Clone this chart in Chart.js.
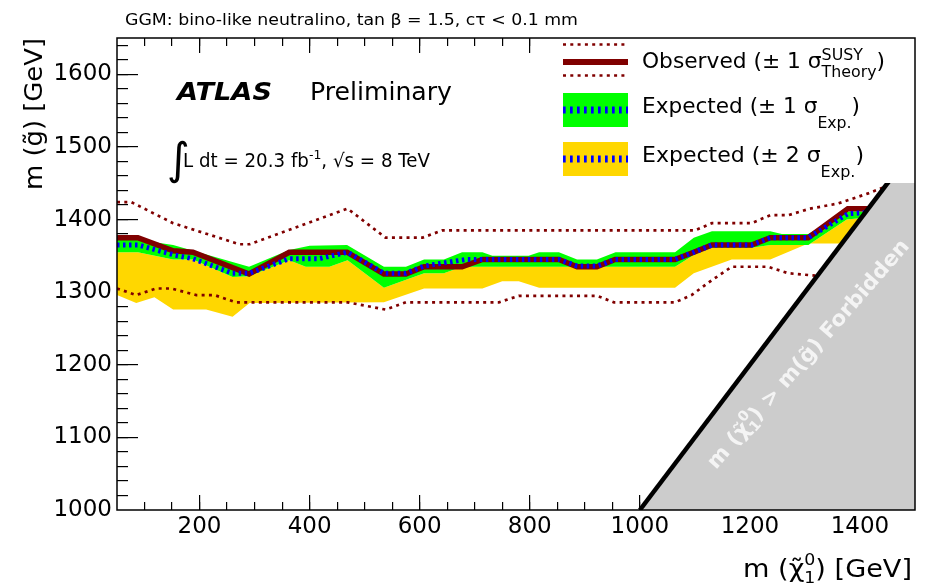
<!DOCTYPE html>
<html lang="en">
<head>
<meta charset="UTF-8">
<title>GGM bino-like neutralino limits</title>
<style>
  html, body { margin: 0; padding: 0; background: #fff; }
  canvas { display: block; }
</style>
<script src="https://cdn.jsdelivr.net/npm/chart.js@4.4.1/dist/chart.umd.min.js"></script>
</head>
<body>
<canvas id="limitChart" width="932" height="584"></canvas>
<script>
const FONT = '"DejaVu Sans", sans-serif';
const DARK_RED = '#800000';

// axis ranges and labels
const X_MIN = 50, X_MAX = 1500;
const Y_MIN = 1000, Y_MAX = 1650;
const xTickValues = [200, 400, 600, 800, 1000, 1200, 1400];
const yTickValues = [1000, 1100, 1200, 1300, 1400, 1500, 1600];

// observed limit, m(neutralino) vs m(gluino)
const obsMass  = [50, 88, 152, 188, 290, 363, 468, 535, 575, 608, 677, 714, 853, 886, 922, 955, 1064, 1098, 1131, 1203, 1237, 1306, 1378, 1420];
const obsLimit = [1375, 1375, 1357, 1355, 1325, 1355, 1355, 1325, 1325, 1335, 1335, 1345, 1345, 1335, 1335, 1345, 1345, 1355, 1365, 1365, 1375, 1375, 1415, 1415];

// observed +/- 1 sigma theory
const thUpMass    = [50, 76, 152, 272, 291, 469, 538, 605, 641, 1100, 1131, 1203, 1237, 1270, 1309, 1360, 1415, 1445];
const thUpLimit   = [1424, 1424, 1395, 1366, 1366, 1415, 1375, 1375, 1385, 1385, 1395, 1395, 1406, 1406, 1415, 1422, 1436, 1445];
const thDownMass  = [50, 85, 121, 149, 194, 227, 266, 469, 538, 575, 744, 780, 922, 953, 1064, 1094, 1130, 1167, 1233, 1270, 1330];
const thDownLimit = [1305, 1296, 1305, 1305, 1296, 1296, 1286, 1286, 1276, 1286, 1286, 1295, 1295, 1286, 1286, 1296, 1316, 1335, 1335, 1326, 1322];

// expected limit
const expMass  = [50, 88, 155, 188, 260, 290, 363, 417, 469, 535, 575, 608, 684, 853, 886, 922, 955, 1064, 1098, 1131, 1203, 1237, 1306, 1378, 1420];
const expLimit = [1365, 1365, 1351, 1346, 1326, 1326, 1346, 1346, 1355, 1326, 1326, 1336, 1345, 1345, 1336, 1336, 1345, 1345, 1355, 1365, 1365, 1375, 1375, 1408, 1410];

// expected +/- 1 sigma band
const greenUpMass   = [50, 88, 152, 290, 363, 400, 468, 535, 575, 608, 644, 677, 714, 732, 798, 817, 853, 886, 922, 956, 1064, 1098, 1131, 1237, 1258, 1306, 1376, 1440];
const greenUpLimit  = [1372, 1372, 1365, 1335, 1358, 1364, 1365, 1335, 1335, 1345, 1345, 1355, 1355, 1350, 1350, 1355, 1355, 1345, 1345, 1355, 1355, 1375, 1384, 1384, 1380, 1380, 1411, 1411];
const greenLowMass  = [50, 88, 152, 188, 260, 290, 363, 393, 436, 469, 535, 608, 644, 677, 1064, 1098, 1131, 1203, 1237, 1306, 1376, 1440];
const greenLowLimit = [1355, 1355, 1345, 1345, 1321, 1322, 1344, 1335, 1335, 1344, 1306, 1326, 1326, 1335, 1335, 1351, 1361, 1361, 1365, 1365, 1400, 1405];

// expected -2 sigma edge
const yellowLowMass  = [50, 85, 118, 152, 212, 260, 291, 535, 608, 714, 750, 780, 817, 1064, 1098, 1167, 1237, 1306, 1440];
const yellowLowLimit = [1296, 1285, 1293, 1276, 1276, 1266, 1285, 1286, 1305, 1305, 1315, 1315, 1306, 1306, 1326, 1345, 1345, 1367, 1367];

// kinematic edge m(neutralino) = m(gluino)
const edgeMass  = [1000, 1500];
const edgeLimit = [1000, 1500];

function pts(xs, ys) {
  return xs.map((x, i) => ({ x: x, y: ys[i] }));
}

function steps(from, to, step) {
  const out = [];
  for (let v = from; v <= to; v += step) out.push(v);
  return out;
}

function series(data, extra) {
  return Object.assign({
    data: data,
    pointRadius: 0,
    pointHoverRadius: 0,
    tension: 0,
    fill: false,
    clip: 0,
    borderWidth: 0
  }, extra);
}

// an unlabeled axis that only draws inward tick marks at the plot edge
function tickAxis(axis, position, values, length, weight) {
  const horizontal = axis === 'x';
  return {
    type: 'linear',
    axis: axis,
    position: position,
    weight: weight,
    min: horizontal ? X_MIN : Y_MIN,
    max: horizontal ? X_MAX : Y_MAX,
    afterBuildTicks(scale) {
      scale.ticks = values.map(v => ({ value: v }));
    },
    afterFit(scale) {
      if (horizontal) scale.height = 0; else scale.width = 0;
    },
    border: { display: false },
    grid: {
      display: true,
      drawOnChartArea: false,
      drawTicks: true,
      tickLength: -length,
      tickColor: '#000',
      tickWidth: 1.2,
      lineWidth: 1.2
    },
    ticks: { display: false }
  };
}

// text made of plain runs and stacked sup/sub pairs
function fontOf(weight, size) {
  return `${weight} ${size}px ${FONT}`;
}

function richWidth(ctx, parts, weight) {
  let w = 0;
  for (const p of parts) {
    ctx.font = fontOf(weight, p.size);
    if (p.sup !== undefined) {
      w += Math.max(ctx.measureText(p.sup).width, ctx.measureText(p.sub).width);
    } else {
      w += ctx.measureText(p.text).width;
    }
  }
  return w;
}

function drawRich(ctx, parts, o) {
  const weight = o.weight || 'normal';
  ctx.save();
  ctx.translate(o.x, o.y);
  if (o.angle) ctx.rotate(o.angle);
  if (o.width) ctx.scale(o.width / richWidth(ctx, parts, weight), 1);
  ctx.fillStyle = o.color || '#000';
  ctx.textAlign = 'left';
  ctx.textBaseline = 'alphabetic';
  let cx = 0;
  for (const p of parts) {
    ctx.font = fontOf(weight, p.size);
    if (p.sup !== undefined) {
      ctx.fillText(p.sup, cx, p.supDy);
      ctx.fillText(p.sub, cx, p.subDy);
      cx += Math.max(ctx.measureText(p.sup).width, ctx.measureText(p.sub).width);
    } else {
      ctx.fillText(p.text, cx, p.dy || 0);
      cx += ctx.measureText(p.text).width;
    }
  }
  ctx.restore();
}

function drawLegend(ctx, a) {
  ctx.save();
  ctx.fillStyle = '#fff';
  ctx.fillRect(550, a.top, a.right - 550, 183 - a.top);

  const x0 = 563, x1 = 628;
  // observed
  ctx.strokeStyle = DARK_RED;
  ctx.lineWidth = 2.7;
  ctx.setLineDash([3, 4.3]);
  ctx.beginPath();
  ctx.moveTo(x0, 44.5); ctx.lineTo(x1, 44.5);
  ctx.moveTo(x0, 75.5); ctx.lineTo(x1, 75.5);
  ctx.stroke();
  ctx.setLineDash([]);
  ctx.lineWidth = 6;
  ctx.beginPath();
  ctx.moveTo(x0, 62); ctx.lineTo(x1, 62);
  ctx.stroke();

  // expected bands
  ctx.fillStyle = '#00ff00';
  ctx.fillRect(x0, 93, x1 - x0, 34);
  ctx.fillStyle = '#ffd700';
  ctx.fillRect(x0, 142, x1 - x0, 34);
  ctx.strokeStyle = '#0000ff';
  ctx.lineWidth = 7;
  ctx.setLineDash([2.7, 4.3]);
  ctx.beginPath();
  ctx.moveTo(x0, 110); ctx.lineTo(x1, 110);
  ctx.moveTo(x0, 159); ctx.lineTo(x1, 159);
  ctx.stroke();
  ctx.restore();

  drawRich(ctx, [
    { text: 'Observed (± 1 σ', size: 22 },
    { sup: 'SUSY', sub: 'Theory', size: 16, supDy: -8, subDy: 9 },
    { text: ')', size: 22 }
  ], { x: 642, y: 68, width: 243 });
  drawRich(ctx, [
    { text: 'Expected (± 1 σ', size: 22 },
    { text: 'Exp.', size: 16, dy: 15 },
    { text: ')', size: 22 }
  ], { x: 642, y: 113, width: 218 });
  drawRich(ctx, [
    { text: 'Expected (± 2 σ', size: 22 },
    { text: 'Exp.', size: 16, dy: 15 },
    { text: ')', size: 22 }
  ], { x: 642, y: 162, width: 222 });
}

const decorPlugin = {
  id: 'decor',
  afterDatasetsDraw(chart) {
    const { ctx, chartArea: a } = chart;

    // label inside the forbidden triangle
    drawRich(ctx, [
      { text: 'm (χ̃', size: 21 },
      { sup: '0', sub: '1', size: 14, supDy: -10, subDy: 5 },
      { text: ') > m(g̃) Forbidden', size: 21 }
    ], { x: 716, y: 470, angle: -49 * Math.PI / 180, width: 296, weight: 'bold', color: '#f4f4f4' });

    drawLegend(ctx, a);

    // frame
    ctx.save();
    ctx.strokeStyle = '#000';
    ctx.lineWidth = 1.5;
    ctx.strokeRect(a.left, a.top, a.right - a.left, a.bottom - a.top);
    ctx.restore();

    // header and labels
    drawRich(ctx, [{ text: 'GGM: bino-like neutralino, tan β = 1.5, cτ < 0.1 mm', size: 16 }],
      { x: 125, y: 25, width: 453 });
    drawRich(ctx, [{ text: 'ATLAS', size: 24 }], { x: 177, y: 100, width: 95, weight: 'italic bold' });
    drawRich(ctx, [{ text: 'Preliminary', size: 24 }], { x: 310, y: 100, width: 142 });

    ctx.save();
    ctx.fillStyle = '#000';
    ctx.font = fontOf('normal', 44);
    ctx.fillText('∫', 167, 174);
    ctx.restore();
    drawRich(ctx, [
      { text: 'L dt = 20.3 fb', size: 19 },
      { text: '-1', size: 13, dy: -8 },
      { text: ', √s = 8 TeV', size: 19 }
    ], { x: 183, y: 167, width: 247 });

    // axis titles
    drawRich(ctx, [
      { text: 'm (χ̃', size: 25 },
      { sup: '0', sub: '1', size: 16, supDy: -12, subDy: 6 },
      { text: ') [GeV]', size: 25 }
    ], { x: 743, y: 577, width: 169 });
    drawRich(ctx, [{ text: 'm (g̃) [GeV]', size: 25 }],
      { x: 42, y: 190, angle: -Math.PI / 2, width: 152 });
  }
};

Chart.defaults.font.family = FONT;

const xMinorTicks = steps(100, 1450, 50);
const yMinorTicks = steps(1020, 1640, 20);
const yMajorTicks = yTickValues.slice(1);

new Chart(document.getElementById('limitChart'), {
  type: 'line',
  data: {
    datasets: [
      // 0: expected limit
      series(pts(expMass, expLimit), { borderColor: '#0000ff', borderWidth: 5, borderDash: [2.5, 3.5], order: 0 }),
      // 1: observed limit
      series(pts(obsMass, obsLimit), { borderColor: DARK_RED, borderWidth: 5.5, order: 1 }),
      // 2, 3: theory variations
      series(pts(thUpMass, thUpLimit), { borderColor: DARK_RED, borderWidth: 2.7, borderDash: [3, 4.3], order: 2 }),
      series(pts(thDownMass, thDownLimit), { borderColor: DARK_RED, borderWidth: 2.7, borderDash: [3, 4.3], order: 3 }),
      // 4: forbidden region
      series(pts(edgeMass, edgeLimit), { borderColor: '#000', borderWidth: 4.5, backgroundColor: '#cccccc', fill: 'start', order: -1 }),
      // 5-7: expected bands
      series(pts(greenUpMass, greenUpLimit), { backgroundColor: '#00ff00', fill: 6, order: 5 }),
      series(pts(greenLowMass, greenLowLimit), { backgroundColor: '#ffd700', fill: 7, order: 6 }),
      series(pts(yellowLowMass, yellowLowLimit), { order: 7 })
    ]
  },
  options: {
    responsive: false,
    animation: false,
    devicePixelRatio: 1,
    events: [],
    layout: { padding: { top: 38, right: 17, left: 0, bottom: 0 } },
    scales: {
      x: {
        type: 'linear',
        position: 'bottom',
        min: X_MIN,
        max: X_MAX,
        afterBuildTicks(scale) {
          scale.ticks = xTickValues.map(v => ({ value: v }));
        },
        afterFit(scale) {
          scale.height = 74;
        },
        grid: { display: false, drawTicks: false },
        border: { display: false },
        ticks: { color: '#000', font: { size: 23 }, padding: 3, maxRotation: 0, autoSkip: false, callback: v => String(v) }
      },
      y: {
        type: 'linear',
        position: 'left',
        min: Y_MIN,
        max: Y_MAX,
        afterBuildTicks(scale) {
          scale.ticks = yTickValues.map(v => ({ value: v }));
        },
        afterFit(scale) {
          scale.width = 117;
        },
        grid: { display: false, drawTicks: false },
        border: { display: false },
        ticks: { color: '#000', font: { size: 23 }, padding: 5, autoSkip: false, callback: v => String(v) }
      },
      xMajorBottom: tickAxis('x', 'bottom', xTickValues, 15, -2),
      xMinorBottom: tickAxis('x', 'bottom', xMinorTicks, 8, -1),
      xMajorTop: tickAxis('x', 'top', xTickValues, 15, -2),
      xMinorTop: tickAxis('x', 'top', xMinorTicks, 8, -1),
      yMajorLeft: tickAxis('y', 'left', yMajorTicks, 21, -2),
      yMinorLeft: tickAxis('y', 'left', yMinorTicks, 11, -1)
    },
    plugins: {
      legend: { display: false },
      title: { display: false },
      tooltip: { enabled: false }
    }
  },
  plugins: [decorPlugin]
});
</script>
</body>
</html>
